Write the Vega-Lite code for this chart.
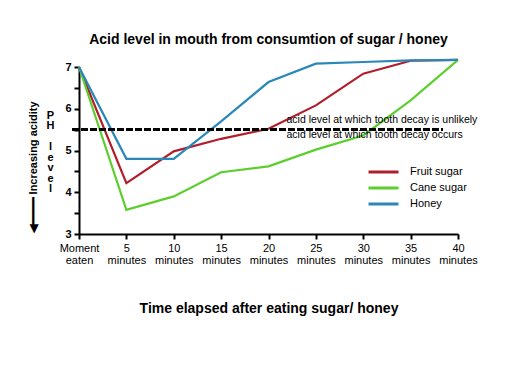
{
  "$schema": "https://vega.github.io/schema/vega-lite/v6.json",
  "width": 379,
  "height": 167,
  "autosize": {"type": "none"},
  "padding": {"left": 79, "top": 67, "right": 52, "bottom": 135},
  "background": "white",
  "title": {"text": "Acid level in mouth from consumtion of sugar / honey", "font": "Liberation Sans", "fontSize": 14, "fontWeight": "bold", "color": "black", "anchor": "middle", "offset": 9},
  "config": {"view": {"stroke": null}, "font": "Liberation Sans"},
  "data": {"values": [
    {"sugar": "Fruit sugar", "minutes": 0, "ph": 7},
    {"sugar": "Fruit sugar", "minutes": 5, "ph": 4.22},
    {"sugar": "Fruit sugar", "minutes": 10, "ph": 4.98},
    {"sugar": "Fruit sugar", "minutes": 15, "ph": 5.28},
    {"sugar": "Fruit sugar", "minutes": 20, "ph": 5.52},
    {"sugar": "Fruit sugar", "minutes": 25, "ph": 6.08},
    {"sugar": "Fruit sugar", "minutes": 30, "ph": 6.84},
    {"sugar": "Fruit sugar", "minutes": 35, "ph": 7.15},
    {"sugar": "Fruit sugar", "minutes": 40, "ph": 7.17},
    {"sugar": "Cane sugar", "minutes": 0, "ph": 7},
    {"sugar": "Cane sugar", "minutes": 5, "ph": 3.58},
    {"sugar": "Cane sugar", "minutes": 10, "ph": 3.9},
    {"sugar": "Cane sugar", "minutes": 15, "ph": 4.48},
    {"sugar": "Cane sugar", "minutes": 20, "ph": 4.62},
    {"sugar": "Cane sugar", "minutes": 25, "ph": 5.02},
    {"sugar": "Cane sugar", "minutes": 30, "ph": 5.36},
    {"sugar": "Cane sugar", "minutes": 35, "ph": 6.2},
    {"sugar": "Cane sugar", "minutes": 40, "ph": 7.17},
    {"sugar": "Honey", "minutes": 0, "ph": 7},
    {"sugar": "Honey", "minutes": 5, "ph": 4.8},
    {"sugar": "Honey", "minutes": 10, "ph": 4.8},
    {"sugar": "Honey", "minutes": 15, "ph": 5.7},
    {"sugar": "Honey", "minutes": 20, "ph": 6.64},
    {"sugar": "Honey", "minutes": 25, "ph": 7.08},
    {"sugar": "Honey", "minutes": 30, "ph": 7.12},
    {"sugar": "Honey", "minutes": 35, "ph": 7.16},
    {"sugar": "Honey", "minutes": 40, "ph": 7.17}
  ]},
  "layer": [
    {
      "mark": {"type": "line", "strokeWidth": 2.2},
      "encoding": {
        "x": {
          "field": "minutes", "type": "quantitative",
          "scale": {"domain": [0, 40], "nice": false, "zero": false},
          "axis": {
            "values": [0, 5, 10, 15, 20, 25, 30, 35, 40],
            "labelExpr": "datum.value == 0 ? ['Moment', 'eaten'] : [datum.label, 'minutes']",
            "grid": false, "domainColor": "black", "domainWidth": 2,
            "tickColor": "black", "tickWidth": 2, "tickSize": 5,
            "labelFontSize": 11, "labelColor": "black", "labelPadding": 3, "labelLineHeight": 12, "labelFlush": false, "labelOverlap": false,
            "title": "Time elapsed after eating sugar/ honey", "titleFontSize": 14, "titleFontWeight": "bold", "titleColor": "black", "titlePadding": 36
          }
        },
        "y": {
          "field": "ph", "type": "quantitative",
          "scale": {"domain": [3, 7], "nice": false, "zero": false},
          "axis": {
            "values": [3, 3.5, 4, 4.5, 5, 5.5, 6, 6.5, 7],
            "labelExpr": "datum.value % 1 == 0 ? format(datum.value, 'd') : ''",
            "grid": false, "domainColor": "black", "domainWidth": 2,
            "tickColor": "black", "tickWidth": 2, "tickSize": 5,
            "labelFontSize": 11, "labelFontWeight": "bold", "labelColor": "black", "labelPadding": 3,
            "title": ["P", "H", "\u2800", "l", "e", "v", "e", "l"],
            "titleAngle": 0, "titleX": -29, "titleY": 48, "titleAlign": "center", "titleBaseline": "middle",
            "titleLineHeight": 10.5, "titleFontSize": 11, "titleFontWeight": "bold", "titleColor": "black"
          }
        },
        "color": {
          "field": "sugar", "type": "nominal",
          "scale": {"domain": ["Fruit sugar", "Cane sugar", "Honey"], "range": ["#b01e2c", "#5ccf2e", "#2a88b8"]},
          "legend": {
            "orient": "none", "legendX": 288, "legendY": 97, "title": null,
            "symbolType": "stroke", "symbolStrokeWidth": 3, "symbolSize": 900,
            "clipHeight": 16, "rowPadding": 0, "labelFontSize": 11, "labelColor": "black", "labelOffset": 10
          }
        }
      }
    },
    {
      "mark": {"type": "rule", "strokeDash": [6, 3], "strokeWidth": 2, "color": "black"},
      "encoding": {
        "x": {"datum": -0.7, "type": "quantitative"},
        "x2": {"datum": 38.4},
        "y": {
          "datum": 5.5, "type": "quantitative",
          "axis": {
            "orient": "left", "labels": false, "ticks": false, "domain": false, "grid": false,
            "title": "◀━━━━ Increasing acidity", "titleX": -46, "titleY": 100, "titleAngle": -90,
            "titleAlign": "center", "titleBaseline": "middle",
            "titleFontSize": 11, "titleFontWeight": "bold", "titleColor": "black"
          }
        }
      }
    },
    {
      "data": {"values": [
        {"minutes": 21.9, "ph": 5.5, "note": "acid level at which tooth decay is unlikely"}
      ]},
      "mark": {"type": "text", "align": "left", "baseline": "middle", "dy": -10, "fontSize": 10.5, "color": "black"},
      "encoding": {
        "x": {"field": "minutes", "type": "quantitative"},
        "y": {"field": "ph", "type": "quantitative", "axis": null},
        "text": {"field": "note"}
      }
    },
    {
      "data": {"values": [
        {"minutes": 21.9, "ph": 5.5, "note": "acid level at which tooth decay occurs"}
      ]},
      "mark": {"type": "text", "align": "left", "baseline": "middle", "dy": 5, "fontSize": 10.5, "color": "black"},
      "encoding": {
        "x": {"field": "minutes", "type": "quantitative"},
        "y": {"field": "ph", "type": "quantitative", "axis": null},
        "text": {"field": "note"}
      }
    }
  ],
  "resolve": {"axis": {"y": "independent"}}
}
